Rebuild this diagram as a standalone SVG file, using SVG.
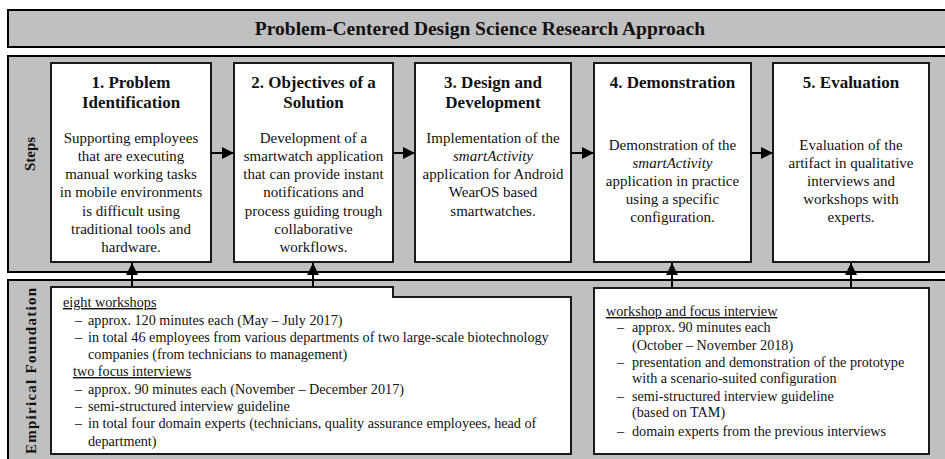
<svg xmlns="http://www.w3.org/2000/svg" width="945" height="459" viewBox="0 0 945 459" font-family="'Liberation Serif', 'DejaVu Serif', 'Times New Roman', serif">
  <defs>
    <style>
      .panel { fill: #c0c0c0; stroke: #000; stroke-width: 2; }
      .box { fill: #fff; stroke: #1a1a1a; stroke-width: 2; }
      text { font-family: 'Liberation Serif', 'DejaVu Serif', 'Times New Roman', serif; fill: #111; }
      .title { font-size: 19.5px; font-weight: bold; text-anchor: middle; }
      .side { font-size: 15px; font-weight: bold; text-anchor: middle; }
      .head { font-size: 17px; font-weight: bold; text-anchor: middle; }
      .body { font-size: 15px; text-anchor: middle; }
      .list { font-size: 14.2px; }
      .u { text-decoration: underline; }
      .conn { stroke: #000; stroke-width: 2; fill: none; }
    </style>
    <marker id="arrow" viewBox="0 0 12 12" refX="12" refY="6" markerWidth="12" markerHeight="12" markerUnits="userSpaceOnUse" orient="auto">
      <path d="M0,0 L12,6 L0,12 Z" fill="#000"/>
    </marker>
  </defs>

  <rect width="945" height="459" fill="#fff"/>

  <!-- header bar -->
  <g id="header">
    <rect class="panel" x="8" y="10" width="950" height="37"/>
    <text class="title" x="480" y="35">Problem-Centered Design Science Research Approach</text>
  </g>

  <!-- band backgrounds -->
  <g id="steps-band">
    <rect class="panel" x="8" y="56" width="950" height="216" stroke-width="2.5"/>
    <text class="side" transform="translate(35,154) rotate(-90)">Steps</text>
  </g>
  <g id="foundation-band">
    <rect class="panel" x="8" y="280" width="950" height="190" stroke-width="1.5"/>
    <text class="side" transform="translate(36,371) rotate(-90)" textLength="166" lengthAdjust="spacing">Empirical Foundation</text>
  </g>

  <!-- process steps -->
  <g id="step1">
    <rect class="box" x="51" y="63" width="160" height="199"/>
    <text class="head" x="131" y="88">1. Problem</text>
    <text class="head" x="131" y="108">Identification</text>
    <text class="body" x="131" y="143">Supporting  employees</text>
    <text class="body" x="131" y="161">that are executing</text>
    <text class="body" x="131" y="179">manual working tasks</text>
    <text class="body" x="131" y="197">in mobile  environments</text>
    <text class="body" x="131" y="216">is difficult  using</text>
    <text class="body" x="131" y="234">traditional  tools  and</text>
    <text class="body" x="131" y="252">hardware.</text>
  </g>

  <g id="step2">
    <rect class="box" x="234" y="63" width="159" height="199"/>
    <text class="head" x="313.5" y="88">2. Objectives of a</text>
    <text class="head" x="313.5" y="108">Solution</text>
    <text class="body" x="313.5" y="143">Development  of a</text>
    <text class="body" x="313.5" y="161">smartwatch application</text>
    <text class="body" x="313.5" y="179">that can provide instant</text>
    <text class="body" x="313.5" y="197">notifications  and</text>
    <text class="body" x="313.5" y="216">process guiding  trough</text>
    <text class="body" x="313.5" y="234">collaborative</text>
    <text class="body" x="313.5" y="252">workflows.</text>
  </g>

  <g id="step3">
    <rect class="box" x="415" y="63" width="156" height="199"/>
    <text class="head" x="493" y="88">3. Design and</text>
    <text class="head" x="493" y="108">Development</text>
    <text class="body" x="493" y="143">Implementation  of the</text>
    <text class="body" x="493" y="161" font-style="italic">smartActivity</text>
    <text class="body" x="493" y="179">application  for Android</text>
    <text class="body" x="493" y="197">WearOS based</text>
    <text class="body" x="493" y="216">smartwatches.</text>
  </g>

  <g id="step4">
    <rect class="box" x="594" y="63" width="157" height="199"/>
    <text class="head" x="672.5" y="88">4. Demonstration</text>
    <text class="body" x="672.5" y="150">Demonstration of the</text>
    <text class="body" x="672.5" y="168" font-style="italic">smartActivity</text>
    <text class="body" x="672.5" y="186">application  in practice</text>
    <text class="body" x="672.5" y="204">using  a  specific</text>
    <text class="body" x="672.5" y="222">configuration.</text>
  </g>

  <g id="step5">
    <rect class="box" x="773" y="63" width="156" height="199"/>
    <text class="head" x="851" y="88">5. Evaluation</text>
    <text class="body" x="851" y="150">Evaluation  of the</text>
    <text class="body" x="851" y="168">artifact in qualitative</text>
    <text class="body" x="851" y="186">interviews and</text>
    <text class="body" x="851" y="204">workshops with</text>
    <text class="body" x="851" y="222">experts.</text>
  </g>

  <!-- empirical foundation sources -->
  <g id="foundation-early">
    <path class="box" d="M51,287 H393 V297 H571 V454 H51 Z"/>
    <text class="list u" x="63" y="307">eight workshops</text>
    <text class="list" x="75" y="325">–</text>
    <text class="list" x="88" y="325">approx. 120 minutes each (May – July 2017)</text>
    <text class="list" x="75" y="342">–</text>
    <text class="list" x="88" y="342">in total 46 employees from various departments of two large-scale biotechnology</text>
    <text class="list" x="88" y="359">companies (from technicians to management)</text>
    <text class="list u" x="73" y="376">two focus interviews</text>
    <text class="list" x="75" y="394">–</text>
    <text class="list" x="88" y="394">approx. 90 minutes each (November – December 2017)</text>
    <text class="list" x="75" y="411">–</text>
    <text class="list" x="88" y="411">semi-structured interview guideline</text>
    <text class="list" x="75" y="428">–</text>
    <text class="list" x="88" y="428">in total four domain experts (technicians, quality assurance employees, head of</text>
    <text class="list" x="88" y="446">department)</text>
  </g>

  <g id="foundation-late">
    <rect class="box" x="594" y="288" width="335" height="166"/>
    <text class="list u" x="606" y="316">workshop and focus interview</text>
    <text class="list" x="617" y="332">–</text>
    <text class="list" x="632" y="332">approx. 90 minutes each</text>
    <text class="list" x="632" y="350">(October – November 2018)</text>
    <text class="list" x="617" y="367">–</text>
    <text class="list" x="632" y="367">presentation and demonstration of the prototype</text>
    <text class="list" x="632" y="383">with a scenario-suited configuration</text>
    <text class="list" x="617" y="401">–</text>
    <text class="list" x="632" y="401">semi-structured interview guideline</text>
    <text class="list" x="632" y="417">(based on TAM)</text>
    <text class="list" x="617" y="436">–</text>
    <text class="list" x="632" y="436">domain experts from the previous interviews</text>
  </g>

  <!-- connectors -->
  <g id="connectors">
    <line class="conn" x1="211" y1="153" x2="234" y2="153" marker-end="url(#arrow)"/>
    <line class="conn" x1="393" y1="153" x2="415" y2="153" marker-end="url(#arrow)"/>
    <line class="conn" x1="571" y1="153" x2="594" y2="153" marker-end="url(#arrow)"/>
    <line class="conn" x1="751" y1="153" x2="773" y2="153" marker-end="url(#arrow)"/>
    <line class="conn" x1="132" y1="287" x2="132" y2="263" marker-end="url(#arrow)"/>
    <line class="conn" x1="313" y1="287" x2="313" y2="263" marker-end="url(#arrow)"/>
    <line class="conn" x1="672" y1="288" x2="672" y2="263" marker-end="url(#arrow)"/>
    <line class="conn" x1="851" y1="288" x2="851" y2="263" marker-end="url(#arrow)"/>
  </g>
</svg>
